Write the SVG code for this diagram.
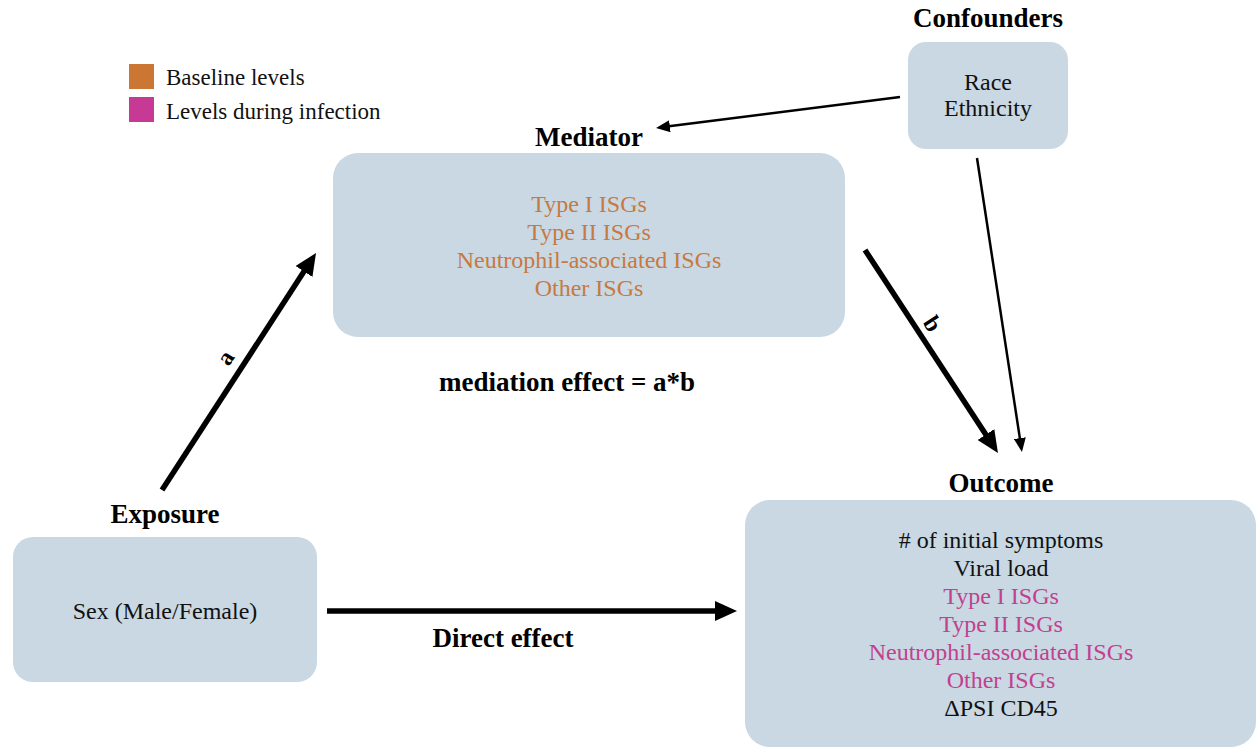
<svg xmlns="http://www.w3.org/2000/svg" width="1257" height="748" viewBox="0 0 1257 748">
<style>
.box{fill:#c9d8e3;}
text{font-family:'Liberation Serif','DejaVu Serif',serif;}
.t{font-size:24px;fill:#111;text-anchor:middle;}
.h{font-size:27px;font-weight:bold;fill:#000;text-anchor:middle;}
.lg{font-size:23px;fill:#111;}
.or{fill:#c7793f;}
.pk{fill:#c2408f;}
.thick{stroke:#000;stroke-width:5.5;fill:none;marker-end:url(#hb);}
.thin{stroke:#000;stroke-width:2.5;fill:none;marker-end:url(#hs);}
.lbl{font-size:24px;font-weight:bold;fill:#000;text-anchor:middle;}
</style>
<defs>
<marker id="hb" markerUnits="userSpaceOnUse" markerWidth="22" markerHeight="20" refX="4" refY="10" orient="auto">
<path d="M0,0 L22,10 L0,20 z" fill="#000"/>
</marker>
<marker id="hs" markerUnits="userSpaceOnUse" markerWidth="14" markerHeight="12" refX="3" refY="6" orient="auto">
<path d="M0,0 L14,6 L0,12 z" fill="#000"/>
</marker>
</defs>
<rect width="1257" height="748" fill="#fff"/>

<g id="legend">
<rect x="129" y="64" width="25" height="25" fill="#cc7634"/>
<rect x="129" y="97" width="25" height="25" fill="#c63a96"/>
<text class="lg" x="166" y="85" font-family="Liberation Serif, serif">Baseline levels</text>
<text class="lg" x="166" y="119" font-family="Liberation Serif, serif">Levels during infection</text>
</g>

<g id="connectors">
<line class="thick" x1="162" y1="490" x2="306.2" y2="268.1"/>
<line class="thick" x1="865" y1="250" x2="988.1" y2="437.9"/>
<line class="thick" x1="327" y1="611" x2="719" y2="611"/>
<line class="thin" x1="900" y1="97" x2="666.9" y2="126.6"/>
<line class="thin" x1="977" y1="158" x2="1020.3" y2="441.1"/>
<text class="lbl" transform="translate(232,362) rotate(-57)">a</text>
<text class="lbl" transform="translate(926,328) rotate(57)">b</text>
<text class="h" x="503" y="647">Direct effect</text>
<text class="h" x="567" y="391">mediation effect = a*b</text>
</g>

<g id="confounders">
<text class="h" x="988" y="27">Confounders</text>
<rect class="box" x="908" y="42" width="160" height="107" rx="18"/>
<text class="t" x="988" y="90">Race</text>
<text class="t" x="988" y="116">Ethnicity</text>
</g>

<g id="mediator">
<text class="h" x="589" y="146">Mediator</text>
<rect class="box" x="333" y="153" width="512" height="184" rx="25"/>
<text class="t or" x="589" y="212">Type I ISGs</text>
<text class="t or" x="589" y="240">Type II ISGs</text>
<text class="t or" x="589" y="268">Neutrophil-associated ISGs</text>
<text class="t or" x="589" y="296">Other ISGs</text>
</g>

<g id="exposure">
<text class="h" x="165" y="523">Exposure</text>
<rect class="box" x="13" y="537" width="304" height="145" rx="20"/>
<text class="t" x="165" y="619">Sex (Male/Female)</text>
</g>

<g id="outcome">
<text class="h" x="1001" y="492">Outcome</text>
<rect class="box" x="745" y="500" width="511" height="247" rx="25"/>
<text class="t" x="1001" y="548"># of initial symptoms</text>
<text class="t" x="1001" y="576">Viral load</text>
<text class="t pk" x="1001" y="604">Type I ISGs</text>
<text class="t pk" x="1001" y="632">Type II ISGs</text>
<text class="t pk" x="1001" y="660">Neutrophil-associated ISGs</text>
<text class="t pk" x="1001" y="688">Other ISGs</text>
<text class="t" x="1001" y="716">ΔPSI CD45</text>
</g>
</svg>
